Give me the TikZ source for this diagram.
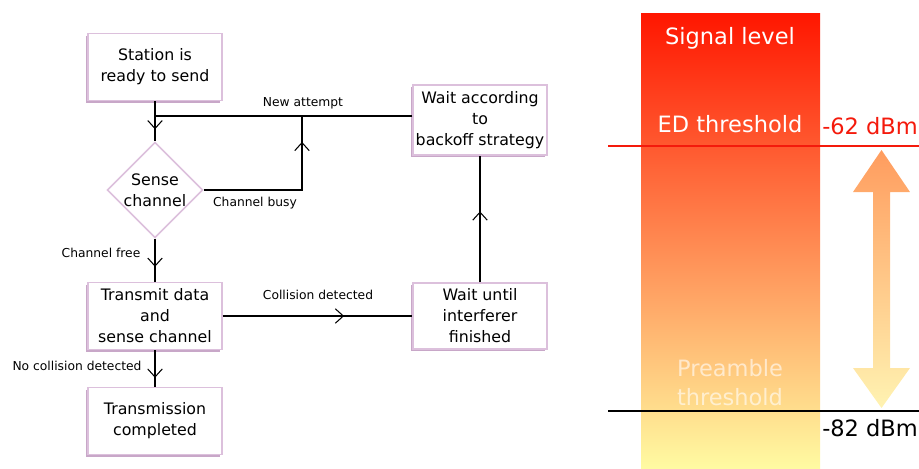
\documentclass[tikz,border=0pt]{standalone}
\usepackage{fontspec}
\setmainfont{DejaVu Sans}
\usetikzlibrary{positioning,shapes.geometric,arrows.meta,decorations.markings,shadows}
\definecolor{boxline}{HTML}{DCC0DC}
\definecolor{boxshade}{HTML}{B081B0}
\definecolor{sigtop}{HTML}{FF1600}
\definecolor{sigmid}{HTML}{FFA24E}
\definecolor{sigbot}{HTML}{FFFBA2}
\definecolor{arrtop}{HTML}{FF9C5E}
\definecolor{arrbot}{HTML}{FFF3B2}
\definecolor{edred}{HTML}{F41A0C}
\tikzset{
  stepbox/.style ={draw=boxline, fill=white, line width=0.6pt, align=center,
                   font=\fontsize{9}{12}\selectfont, minimum width=2.68cm,
                   minimum height=1.34cm, inner sep=1pt,
                   drop shadow={shadow xshift=-1.4pt, shadow yshift=-1.4pt,
                                fill=boxshade, opacity=0.7}},
  % decision: thin pale outline, text set tight
  decide/.style  ={diamond, aspect=1, draw=boxline, fill=white, line width=0.9pt,
                   align=center, inner sep=0pt, font=\fontsize{9}{12}\selectfont},
  flow/.style    ={line width=0.6pt, postaction={decorate},
                   decoration={markings, mark=at position #1 with
                   {\arrow{Straight Barb[length=1.6mm, width=2.9mm, line width=0.6pt]}}}},
  flow/.default=0.6,
  lbl/.style     ={font=\fontsize{7}{8.5}\selectfont},
  level/.style   ={font=\fontsize{12.8}{16.5}\selectfont, align=center},
}

\begin{document}
\begin{tikzpicture}[x=0.02cm, y=-0.02cm]
  \useasboundingbox (0,0) rectangle (919,468);
  % signal level bar with thresholds
  \shade[top color=sigtop, middle color=sigmid, bottom color=sigbot] (641,13) rectangle (820,468);
  \node[level, text=white] (siglvl) at (730,38) {Signal level};
  \node[level, text=white] (edtxt) at (730,124) {ED threshold};
  \node[level, text=white, opacity=0.6] (pretxt) at (730,383) {Preamble\\threshold};
  \draw[edred, line width=1.2pt] (608,146) -- (919,146);
  \draw[black, line width=1.3pt] (608,411) -- (919,411);
  \node[level, text=edred] (edval) at (870,126) {-62 dBm};
  \node[level] (preval) at (870,428) {-82 dBm};
  \shade[top color=arrtop, bottom color=arrbot]
    (881.5,150) -- (910,192) -- (890,192) -- (890,368) -- (910,368) -- (881.5,408)
    -- (853,368) -- (873,368) -- (873,192) -- (853,192) -- cycle;

  % flow chart
  \node[stepbox] (station) at (155,67)  {Station is\\ready to send};
  \node[decide]  (sense)   at (155,190) {Sense\\channel};
  \node[stepbox] (send)    at (155,316) {Transmit data\\and\\sense channel};
  \node[stepbox] (done)    at (155,421) {Transmission\\completed};
  \node[stepbox, minimum height=1.4cm] (back) at (480,120) {Wait according\\to\\backoff strategy};
  \node[stepbox, minimum height=1.32cm] (waitint) at (480,316) {Wait until\\interferer\\finished};
  \coordinate (busy) at (302,116);

  \draw[flow=0.7] (station) -- (sense);
  \draw[line width=0.6pt] (back.west |- busy) -- (busy -| sense.north);
  \draw[flow=0.85] (sense.east) -| (busy);
  \draw[flow=0.65] (sense) -- (send);
  \draw[flow=0.64] (send) -- (waitint);
  \draw[flow=0.56] (waitint) -- (back);
  \draw[flow=0.75] (send) -- (done);

  \node[lbl] (natt)  at (303,103) {New attempt};
  \node[lbl] (cbusy) at (255,203) {Channel busy};
  \node[lbl] (cfree) at (101,253) {Channel free};
  \node[lbl] (coll)  at (318,295) {Collision detected};
  \node[lbl] (ncoll) at (77,366)  {No collision detected};
\end{tikzpicture}
\end{document}
